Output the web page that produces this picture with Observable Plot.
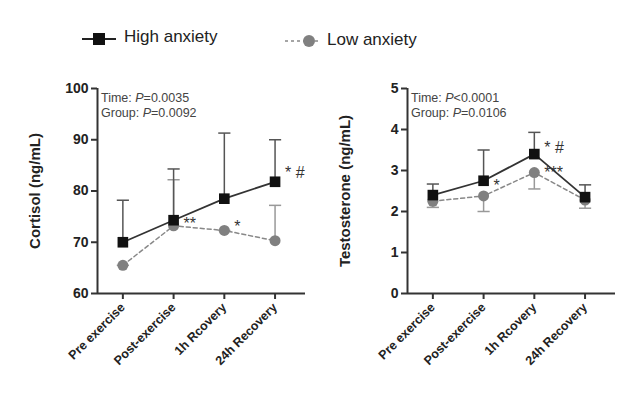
<!DOCTYPE html>
<html><head><meta charset="utf-8">
<script src="https://cdn.jsdelivr.net/npm/d3@7"></script>
<script src="https://cdn.jsdelivr.net/npm/@observablehq/plot@0.6"></script>
<style>
body{margin:0;background:#fff;font-family:Arial,"Liberation Sans",sans-serif;width:633px;height:403px;position:relative;overflow:hidden}
.abs{position:absolute}
.note{font-size:12.5px;color:#444;line-height:15px}
.leg{font-size:17px;color:#222}
</style></head><body>
<script>
const timepoints = ["Pre exercise","Post-exercise","1h Rcovery","24h Recovery"];
// Cortisol
const cortHigh = [70.0, 74.3, 78.5, 81.8];
const cortHighErr = [78.2, 84.3, 91.3, 90.0];
const cortLow = [65.5, 73.2, 72.3, 70.3];
const cortLowErr = [65.5, 82.2, 72.3, 77.2];
const cortStars = [{i:1,y:73.5,t:"**"},{i:2,y:73.0,t:"*"},{i:3,y:83.5,t:"* #"}];
// Testosterone
const testHigh = [2.40, 2.75, 3.40, 2.35];
const testHighErr = [2.67, 3.50, 3.93, 2.65];
const testLow = [2.25, 2.38, 2.95, 2.28];
const testLowErr = [2.10, 2.00, 2.55, 2.08];
const testStars = [{i:1,y:2.62,t:"*"},{i:2,y:3.55,t:"* #"},{i:2,y:2.93,t:"***"}];

function panel(high, highErr, low, lowErr, stars, yDomain, yTicks, yLabel){
  const H = high.map((v,i)=>({i,v,e:highErr[i]}));
  const L = low.map((v,i)=>({i,v,e:lowErr[i]}));
  const mid = (yDomain[0]+yDomain[1])/2;
  return Plot.plot({
    width:310, height:340, marginLeft:97, marginRight:5, marginTop:18, marginBottom:117,
    style:{fontFamily:"Arial,'Liberation Sans',sans-serif", color:"#222", background:"transparent", overflow:"visible"},
    x:{domain:[-0.5,3.6], axis:null},
    y:{domain:yDomain, axis:null},
    marks:[
      Plot.ruleY([yDomain[0]],{x1:-0.5,x2:3.6,stroke:"#333",strokeWidth:2}),
      Plot.ruleX([-0.5],{y1:yDomain[0],y2:yDomain[1],stroke:"#333",strokeWidth:2}),
      Plot.axisY({ticks:yTicks,tickFormat:d=>String(d),tickSize:6,tickPadding:3,fontSize:14,fontWeight:"bold",label:null,stroke:"#333",strokeWidth:2}),
      Plot.axisX({ticks:[0,1,2,3],tickFormat:i=>timepoints[i],tickRotate:-45,tickSize:6,fontSize:12.5,fontWeight:"bold",label:null,strokeWidth:2,stroke:"#333",textAnchor:"end"}),
      Plot.text([yLabel],{x:-0.5,y:mid,text:d=>d,dx:-62,rotate:-90,fontSize:15,fontWeight:"bold",fill:"#222"}),
      Plot.link(L,{x1:"i",x2:"i",y1:"v",y2:"e",stroke:"#999",strokeWidth:1.5}),
      Plot.link(L,{x1:d=>d.i-0.12,x2:d=>d.i+0.12,y1:"e",y2:"e",stroke:"#999",strokeWidth:1.5}),
      Plot.link(H,{x1:"i",x2:"i",y1:"v",y2:"e",stroke:"#555",strokeWidth:1.5}),
      Plot.link(H,{x1:d=>d.i-0.12,x2:d=>d.i+0.12,y1:"e",y2:"e",stroke:"#555",strokeWidth:1.5}),
      Plot.line(L,{x:"i",y:"v",stroke:"#888",strokeWidth:1.5,strokeDasharray:"4,3"}),
      Plot.line(H,{x:"i",y:"v",stroke:"#333",strokeWidth:1.8}),
      Plot.dot(L,{x:"i",y:"v",r:5.5,fill:"#808080"}),
      Plot.dot(H,{x:"i",y:"v",r:6,symbol:"square",fill:"#111"}),
      Plot.text(stars,{x:"i",y:"y",text:"t",dx:10,textAnchor:"start",fontSize:16,fill:"#333"})
    ]
  });
}
const p1 = panel(cortHigh,cortHighErr,cortLow,cortLowErr,cortStars,[60,100],[60,70,80,90,100],"Cortisol (ng/mL)");
const p2 = panel(testHigh,testHighErr,testLow,testLowErr,testStars,[0,5],[0,1,2,3,4,5],"Testosterone (ng/mL)");
p1.classList.add("abs"); p1.style.left="0px"; p1.style.top="70px";
p2.classList.add("abs"); p2.style.left="310px"; p2.style.top="70px";
document.body.append(p1,p2);
</script>
<div class="abs note" style="left:101px;top:91px">Time: <i>P</i>=0.0035<br>Group: <i>P</i>=0.0092</div>
<div class="abs note" style="left:411px;top:91px">Time: <i>P</i>&lt;0.0001<br>Group: <i>P</i>=0.0106</div>
<svg class="abs" style="left:80px;top:27px" width="40" height="24"><line x1="2" y1="12" x2="36" y2="12" stroke="#222" stroke-width="2"/><rect x="13" y="6" width="12" height="12" fill="#111"/></svg>
<div class="abs leg" style="left:124px;top:27px">High anxiety</div>
<svg class="abs" style="left:283px;top:29px" width="40" height="24"><line x1="2" y1="12" x2="36" y2="12" stroke="#888" stroke-width="1.5" stroke-dasharray="3,3"/><circle cx="26" cy="12" r="6" fill="#808080"/></svg>
<div class="abs leg" style="left:327px;top:30px">Low anxiety</div>
</body></html>
